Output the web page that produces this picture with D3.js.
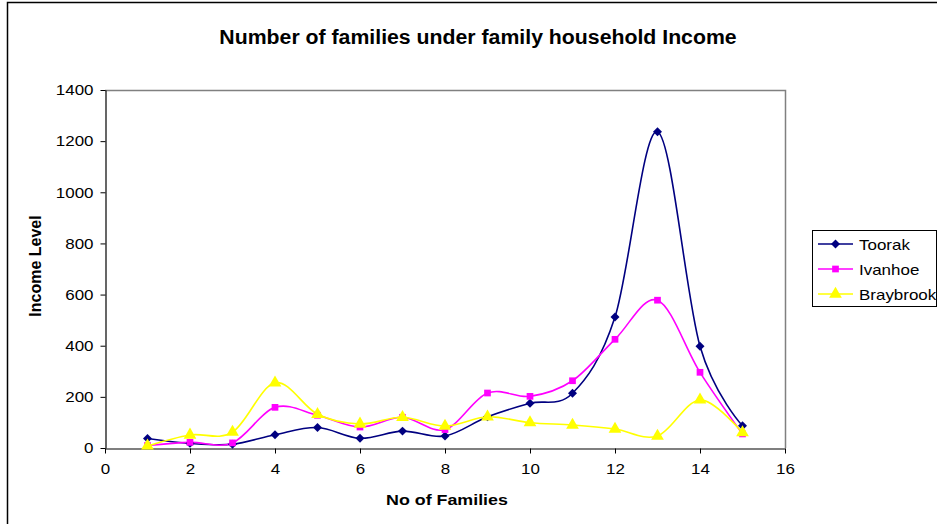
<!DOCTYPE html>
<html>
<head>
<meta charset="utf-8">
<script src="https://cdn.jsdelivr.net/npm/d3@7"></script>
<style>
  html, body { margin: 0; padding: 0; background: #fff; }
  svg { display: block; font-family: Arial, "Liberation Sans", sans-serif; }
</style>
</head>
<body>
<svg id="chart" width="937" height="524"></svg>
<script>
// Number of families by income band for three suburbs
const families = [1, 2, 3, 4, 5, 6, 7, 8, 9, 10, 11, 12, 13, 14, 15];
const toorak    = [37, 18, 15, 52, 80, 38, 66, 47, 122, 175, 214, 512, 1237, 398, 87];
const ivanhoe   = [10, 22, 20, 159, 128, 82, 120, 72, 215, 202, 263, 425, 578, 296, 55];
const braybrook = [8, 51, 62, 255, 132, 94, 120, 86, 122, 99, 90, 74, 47, 188, 60];
const seriesNames = ["Toorak", "Ivanhoe", "Braybrook"];
const xTicks = [0, 2, 4, 6, 8, 10, 12, 14, 16];
const yTicks = [0, 200, 400, 600, 800, 1000, 1200, 1400];

const series = [
  { name: seriesNames[0], values: toorak,    color: "#000080", symbol: d3.symbolSquare,   size: 40, rotate: 45 },
  { name: seriesNames[1], values: ivanhoe,   color: "#FF00FF", symbol: d3.symbolSquare,   size: 45, rotate: 0 },
  { name: seriesNames[2], values: braybrook, color: "#FFFF00", symbol: d3.symbolTriangle, size: 70, rotate: 0 }
];

const svg = d3.select("#chart");
const plot = { left: 105, top: 90, right: 785, bottom: 448 };

const x = d3.scaleLinear().domain([0, 16]).range([plot.left, plot.right]);
const y = d3.scaleLinear().domain([0, 1400]).range([plot.bottom, plot.top]);

// Chart frame (left and top edges visible)
svg.append("path")
  .attr("d", `M7.5,524 V2.5 H937`)
  .attr("fill", "none").attr("stroke", "#000").attr("stroke-width", 1.5);

// Plot area outline (top and right in grey)
svg.append("path")
  .attr("d", `M${plot.left},${plot.top + 0.5} H${plot.right + 0.5} V${plot.bottom}`)
  .attr("fill", "none").attr("stroke", "#808080").attr("stroke-width", 1.5);

// Axes
const xAxis = d3.axisBottom(x).tickValues(xTicks).tickFormat(d3.format("d"))
  .tickSize(5).tickPadding(10).tickSizeOuter(0);
const yAxis = d3.axisLeft(y).tickValues(yTicks).tickFormat(d3.format("d"))
  .tickSize(5).tickPadding(7).tickSizeOuter(0);

const gx = svg.append("g").attr("transform", `translate(0,${plot.bottom + 0.5})`).call(xAxis);
const gy = svg.append("g").attr("transform", `translate(${plot.left + 0.5},0)`).call(yAxis);
[gx, gy].forEach(g => {
  g.select(".domain").attr("stroke", "#000").attr("stroke-width", 1.2);
  g.selectAll(".tick line").attr("stroke", "#000");
  g.selectAll(".tick text").attr("fill", "#000")
    .attr("data-widen", 1.13)
    .style("font-size", "15px")
    .style("font-family", "Arial, 'Liberation Sans', sans-serif");
});

// Smoothed series lines
const line = d3.line()
  .x((d, i) => x(families[i]))
  .y(d => y(d))
  .curve(d3.curveCardinal.tension(0));

const gSeries = svg.append("g");
series.forEach(s => {
  gSeries.append("path")
    .datum(s.values)
    .attr("d", line)
    .attr("fill", "none")
    .attr("stroke", s.color)
    .attr("stroke-width", 1.6);
});
series.forEach(s => {
  gSeries.append("g").selectAll("path")
    .data(s.values)
    .join("path")
    .attr("transform", (d, i) => `translate(${x(families[i])},${y(d)}) rotate(${s.rotate})`)
    .attr("d", d3.symbol(s.symbol, s.size))
    .attr("fill", s.color);
});

// Title and axis titles
svg.append("text")
  .attr("data-widen", 1.09)
  .attr("x", 478).attr("y", 44)
  .attr("text-anchor", "middle")
  .style("font-size", "19.5px").style("font-weight", "bold")
  .text("Number of families under family household Income");

svg.append("text")
  .attr("data-widen", 1.15)
  .attr("x", 447).attr("y", 505)
  .attr("text-anchor", "middle")
  .style("font-size", "15.5px").style("font-weight", "bold")
  .text("No of Families");

svg.append("text")
  .attr("transform", "translate(41,266) rotate(-90)")
  .attr("text-anchor", "middle")
  .style("font-size", "16px").style("font-weight", "bold")
  .text("Income Level");

// Legend
const legend = svg.append("g");
legend.append("rect")
  .attr("x", 812.5).attr("y", 230.5).attr("width", 124).attr("height", 76)
  .attr("fill", "#fff").attr("stroke", "#000").attr("stroke-width", 1);
series.forEach((s, i) => {
  const ly = 244 + i * 25;
  legend.append("line")
    .attr("x1", 818).attr("x2", 853).attr("y1", ly).attr("y2", ly)
    .attr("stroke", s.color).attr("stroke-width", 1.6);
  legend.append("path")
    .attr("transform", `translate(835.5,${ly}) rotate(${s.rotate})`)
    .attr("d", d3.symbol(s.symbol, s.size))
    .attr("fill", s.color);
  legend.append("text")
    .attr("data-widen", 1.13)
    .attr("x", 859).attr("y", ly + 5.5)
    .style("font-size", "15px")
    .text(s.name);
});

// Widen horizontal lettering
svg.selectAll("text[data-widen]").each(function () {
  const k = +this.getAttribute("data-widen");
  const len = this.getComputedTextLength();
  d3.select(this)
    .attr("textLength", len * k)
    .attr("lengthAdjust", "spacingAndGlyphs");
});
</script>
</body>
</html>
